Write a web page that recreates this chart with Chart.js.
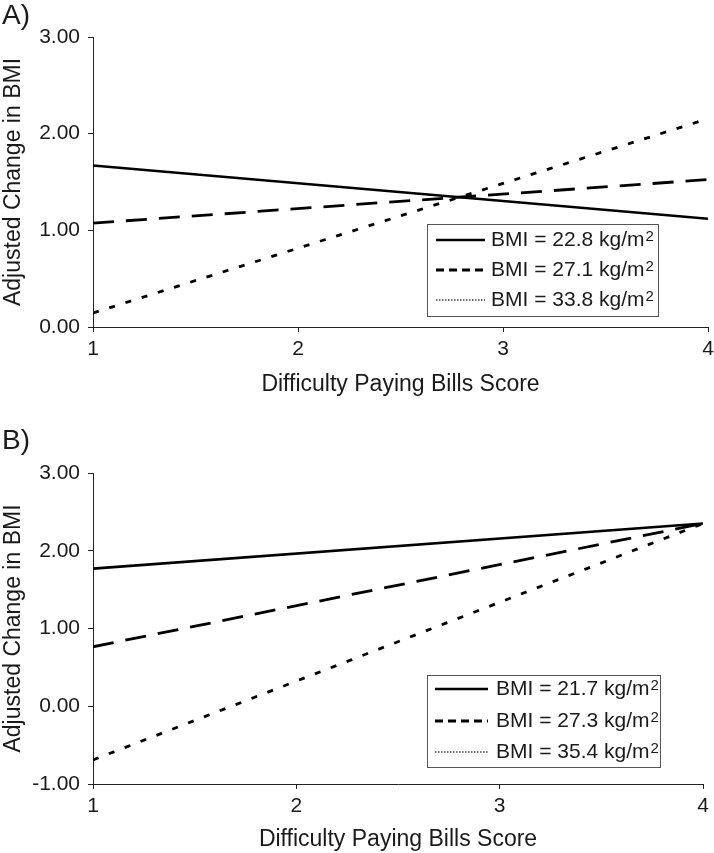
<!DOCTYPE html>
<html><head><meta charset="utf-8">
<script src="https://cdn.jsdelivr.net/npm/chart.js@4"></script>
<style>
html,body{margin:0;padding:0;background:#fff;}
body{width:714px;height:853px;position:relative;overflow:hidden;font-family:"Liberation Sans",Arial,sans-serif;}
.panel{position:absolute;left:0;}
.lab{position:absolute;left:2px;font-size:28px;line-height:28px;color:#1a1a1a;z-index:2;}
</style></head><body>
<div class="panel" style="top:0"><canvas id="cA" width="714" height="420"></canvas></div>
<div class="panel" style="top:420px"><canvas id="cB" width="714" height="433"></canvas></div>
<div class="lab" style="top:1px">A)</div>
<div class="lab" style="top:426px">B)</div>
<script>
// ---- data ----
const xScores = [1, 4];
const xTicks = [1, 2, 3, 4];
const xTitle = 'Difficulty Paying Bills Score';
const yTitle = 'Adjusted Change in BMI';

const bmiA = [22.8, 27.1, 33.8];
const changeA_low = [1.67, 1.12];
const changeA_mid = [1.075, 1.525];
const changeA_high = [0.145, 2.155];
const yTicksA = [0, 1, 2, 3];

const bmiB = [21.7, 27.3, 35.4];
const changeB_low = [1.77, 2.35];
const changeB_mid = [0.765, 2.35];
const changeB_high = [-0.69, 2.35];
const yTicksB = [-1, 0, 1, 2, 3];

// ---- styles ----
const FONT = '"Liberation Sans", Arial, sans-serif';
const TEXT = '#1a1a1a';
const AXIS = '#222';
const styles = [
  {dash: [], width: 2.6, legendDash: [], legendWidth: 2.6, legendColor: '#000'},
  {dash: [21, 12], width: 2.8, legendDash: [8, 5], legendWidth: 2.8, legendColor: '#000'},
  {dash: [6, 11], width: 2.8, legendDash: [1.5, 1.5], legendWidth: 1.3, legendColor: '#444'}
];

const boxLegend = {
  id: 'boxLegend',
  afterDatasetsDraw(chart, args, o) {
    const ctx = chart.ctx;
    ctx.save();
    ctx.fillStyle = '#fff';
    ctx.fillRect(o.left, o.top, o.width, o.height);
    ctx.strokeStyle = '#555';
    ctx.lineWidth = 1;
    ctx.setLineDash([]);
    ctx.strokeRect(o.left + 0.5, o.top + 0.5, o.width, o.height);
    chart.data.datasets.forEach((ds, i) => {
      const y = o.top + o.rows[i];
      const st = styles[i];
      ctx.beginPath();
      ctx.setLineDash(st.legendDash);
      ctx.lineWidth = st.legendWidth;
      ctx.strokeStyle = st.legendColor;
      ctx.lineCap = 'butt';
      ctx.moveTo(o.sampleX0, y);
      ctx.lineTo(o.sampleX1, y);
      ctx.stroke();
      ctx.setLineDash([]);
      const base = ds.label.replace('²', '');
      ctx.font = '21px ' + FONT;
      ctx.fillStyle = TEXT;
      ctx.textBaseline = 'middle';
      ctx.textAlign = 'left';
      ctx.fillText(base, o.textX, y);
      const w = ctx.measureText(base).width;
      ctx.font = '15px ' + FONT;
      ctx.fillText('2', o.textX + w + 1, y - 3);
    });
    ctx.restore();
  }
};

function makeChart(id, series, bmis, yTicks, L) {
  return new Chart(document.getElementById(id), {
    type: 'line',
    data: {
      datasets: series.map((vals, i) => ({
        label: `BMI = ${bmis[i]} kg/m²`,
        data: xScores.map((x, j) => ({x: x, y: vals[j]})),
        borderColor: '#000',
        borderWidth: styles[i].width,
        borderDash: styles[i].dash,
        borderCapStyle: 'butt',
        pointRadius: 0,
        fill: false,
        tension: 0
      }))
    },
    options: {
      responsive: false,
      animation: false,
      devicePixelRatio: 1,
      layout: {padding: {left: 0, right: L.padRight, top: L.padTop, bottom: 0}},
      plugins: {
        legend: {display: false},
        tooltip: {enabled: false},
        boxLegend: L.legend
      },
      scales: {
        x: {
          type: 'linear',
          min: xTicks[0], max: xTicks[xTicks.length - 1],
          afterBuildTicks: s => { s.ticks = xTicks.map(v => ({value: v})); },
          ticks: {font: {family: FONT, size: 21}, color: TEXT, padding: 5, maxRotation: 0,
                  callback: v => String(v)},
          grid: {display: true, drawOnChartArea: false, drawTicks: true, tickLength: 5, color: AXIS, lineWidth: 1},
          border: {display: true, color: AXIS, width: 1},
          title: {display: true, text: xTitle, font: {family: FONT, size: 23}, color: TEXT,
                  padding: {top: 0, bottom: L.xTitlePad}},
          afterFit: s => { s.height = L.xAxisH; s.paddingLeft = 0; s.paddingRight = 0; }
        },
        y: {
          type: 'linear',
          min: yTicks[0], max: yTicks[yTicks.length - 1],
          afterBuildTicks: s => { s.ticks = yTicks.map(v => ({value: v})); },
          ticks: {font: {family: FONT, size: 21}, color: TEXT, padding: 8,
                  callback: v => Number(v).toFixed(2)},
          grid: {display: true, drawOnChartArea: false, drawTicks: true, tickLength: 5, color: AXIS, lineWidth: 1},
          border: {display: true, color: AXIS, width: 1},
          title: {display: true, text: yTitle, font: {family: FONT, size: 23}, color: TEXT,
                  padding: {top: 0, bottom: 0}},
          afterFit: s => { s.width = 93; }
        }
      }
    },
    plugins: [boxLegend]
  });
}

makeChart('cA', [changeA_low, changeA_mid, changeA_high], bmiA, yTicksA, {
  padRight: 6, padTop: 37, xAxisH: 93, xTitlePad: 22,
  legend: {left: 427, top: 224, width: 231, height: 92, rows: [16, 46, 76],
           sampleX0: 436, sampleX1: 485, textX: 491}
});
makeChart('cB', [changeB_low, changeB_mid, changeB_high], bmiB, yTicksB, {
  padRight: 11, padTop: 53, xAxisH: 69, xTitlePad: 0,
  legend: {left: 427, top: 255, width: 233, height: 92, rows: [14, 46, 77],
           sampleX0: 435, sampleX1: 488, textX: 496}
});
</script>
</body></html>
